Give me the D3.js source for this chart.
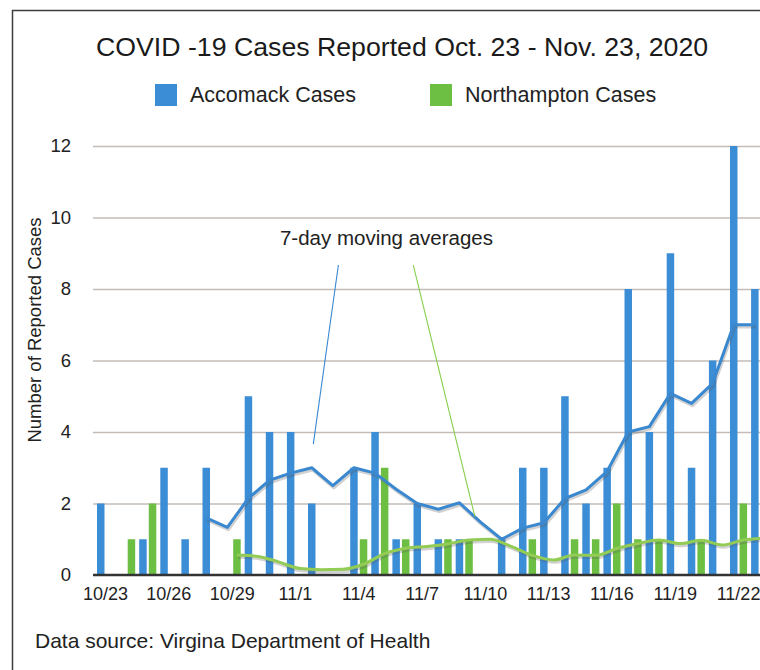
<!DOCTYPE html>
<html>
<head>
<meta charset="utf-8">
<script src="https://cdn.jsdelivr.net/npm/d3@7"></script>
<style>
  html, body { margin: 0; padding: 0; background: #ffffff; }
  svg { display: block; font-family: "Liberation Sans", Arial, Helvetica, sans-serif; }
</style>
</head>
<body>
<svg id="chart" width="760" height="670"></svg>
<script>
// ---------------- data ----------------
const categories = ["10/23","10/24","10/25","10/26","10/27","10/28","10/29","10/30","10/31",
  "11/1","11/2","11/3","11/4","11/5","11/6","11/7","11/8","11/9","11/10","11/11","11/12",
  "11/13","11/14","11/15","11/16","11/17","11/18","11/19","11/20","11/21","11/22","11/23"];
const tickLabels = ["10/23","10/26","10/29","11/1","11/4","11/7","11/10","11/13","11/16","11/19","11/22"];
const yTicks = [0, 2, 4, 6, 8, 10, 12];

const accomack    = [2,0,1,3,1,3,0,5,4,4,2,0,3,4,1,2,1,1,0,1,3,3,5,2,3,8,4,9,3,6,12,8];
const northampton = [0,1,2,0,0,0,1,0,0,0,0,0,1,3,1,0,1,1,0,0,1,0,1,1,2,1,1,0,1,0,2,1];

// 7-day moving averages as drawn in the picture
const accomackAvg = [null,null,null,null,null,1.6,1.33,2.15,2.65,2.85,3.0,2.5,3.0,2.85,2.4,2.0,
  1.84,2.02,1.48,1.0,1.31,1.46,2.14,2.38,2.9,4.0,4.15,5.08,4.8,5.36,7.0,7.0];
const northamptonAvg = [null,null,null,null,null,null,0.56,0.52,0.36,0.18,0.15,0.16,0.3,0.6,0.75,0.8,
  0.87,0.98,1.0,0.8,0.55,0.42,0.56,0.55,0.74,0.88,0.98,0.88,0.97,0.84,0.98,1.03];

const seriesNames = ["Accomack Cases", "Northampton Cases"];
const titleText = "COVID -19 Cases Reported Oct. 23 - Nov. 23, 2020";
const yTitle = "Number of Reported Cases";
const sourceText = "Data source: Virgina Department of Health";
const annotationText = "7-day moving averages";

// ---------------- styles ----------------
const BLUE = "#3b8dd5";
const GREEN = "#6cbf43";
const BLUE_LINE = "#3a88cf";
const GREEN_LINE = "#93cc55";

const svg = d3.select("#chart");

// frame
svg.append("path")
  .attr("d", "M12.5,670 L12.5,10.5 L760,10.5")
  .attr("fill", "none").attr("stroke", "#3d3d3d").attr("stroke-width", 1.5);

// title
svg.append("text").attr("x", 96).attr("y", 56)
  .attr("font-size", 26.7).attr("fill", "#1a1a1a").text(titleText);

// legend
const legend = [
  {name: seriesNames[0], color: BLUE, x: 155},
  {name: seriesNames[1], color: GREEN, x: 430}
];
const lg = svg.append("g").selectAll("g").data(legend).join("g")
  .attr("transform", d => `translate(${d.x},84)`);
lg.append("rect").attr("width", 22).attr("height", 22).attr("fill", d => d.color);
lg.append("text").attr("x", 35).attr("y", 17.5).attr("font-size", 21.5)
  .attr("fill", "#222").text(d => d.name);

// scales
const step = 21.1;
const x0 = 97;
const x = d3.scaleBand().domain(categories)
  .range([x0, x0 + step * (categories.length - 0.19)])
  .paddingInner(0.19).paddingOuter(0);
const xs = d3.scaleBand().domain(["acc", "nor"]).range([0, x.bandwidth()]).paddingInner(0.22);
const y = d3.scaleLinear().domain([0, 12]).range([575, 146]);
const xPos = idx => x.range()[0] + idx * x.step();

// gridlines
const gridG = svg.append("g").attr("transform", "translate(93,0)")
  .call(d3.axisLeft(y).tickValues(yTicks.filter(v => v > 0)).tickSize(-(760 - 93)).tickFormat(""));
gridG.select(".domain").remove();
gridG.selectAll("line").attr("stroke", "#c5bcb7").attr("stroke-width", 1.6);

// y labels
const yAx = svg.append("g").attr("transform", "translate(93,0)")
  .call(d3.axisLeft(y).tickValues(yTicks).tickSize(0).tickPadding(22));
yAx.select(".domain").remove();
yAx.selectAll("text").attr("font-size", 18.5).attr("fill", "#222")
  .attr("font-family", "'Liberation Sans', Arial, sans-serif");

// y title
svg.append("text")
  .attr("transform", `translate(41,${(217 + 443) / 2}) rotate(-90)`)
  .attr("text-anchor", "middle").attr("font-size", 18.5).attr("fill", "#222").text(yTitle);

// bars
const barG = svg.append("g");
barG.selectAll("rect.acc").data(accomack.map((v, i) => ({v, c: categories[i]})))
  .join("rect").attr("class", "acc")
  .attr("x", d => x(d.c) + xs("acc")).attr("width", xs.bandwidth())
  .attr("y", d => y(d.v)).attr("height", d => y(0) - y(d.v)).attr("fill", BLUE);
barG.selectAll("rect.nor").data(northampton.map((v, i) => ({v, c: categories[i]})))
  .join("rect").attr("class", "nor")
  .attr("x", d => x(d.c) + xs("nor")).attr("width", xs.bandwidth())
  .attr("y", d => y(d.v)).attr("height", d => y(0) - y(d.v)).attr("fill", GREEN);

// moving averages
function drawAvg(values, key, color, curve) {
  const pts = values.map((v, i) => ({v, c: categories[i]}));
  const line = d3.line().defined(d => d.v !== null)
    .x(d => x(d.c) + xs(key) + xs.bandwidth() / 2).y(d => y(d.v)).curve(curve);
  svg.append("path").datum(pts).attr("d", line).attr("fill", "none")
    .attr("stroke", "rgba(90,90,90,0.28)").attr("stroke-width", 3.5)
    .attr("stroke-linejoin", "round").attr("transform", "translate(1,2)");
  svg.append("path").datum(pts).attr("d", line).attr("fill", "none")
    .attr("stroke", color).attr("stroke-width", 3).attr("stroke-linejoin", "round");
}
drawAvg(accomackAvg, "acc", BLUE_LINE, d3.curveLinear);
drawAvg(northamptonAvg, "nor", GREEN_LINE, d3.curveMonotoneX);

// baseline
svg.append("line").attr("x1", 93).attr("x2", 760).attr("y1", y(0)).attr("y2", y(0))
  .attr("stroke", "#333").attr("stroke-width", 2.5);

// x labels
const xAx = svg.append("g").attr("transform", `translate(0,${y(0)})`)
  .call(d3.axisBottom(x).tickValues(tickLabels).tickSize(0).tickPadding(12));
xAx.select(".domain").remove();
xAx.selectAll("text").attr("font-size", 18).attr("fill", "#222")
  .attr("font-family", "'Liberation Sans', Arial, sans-serif");

// annotation
svg.append("text").attr("x", xPos(8.67)).attr("y", y(9.23))
  .attr("font-size", 20.5).attr("fill", "#222").text(annotationText);
const pointers = [
  {from: [11.44, 8.67], to: [10.25, 3.66], color: BLUE_LINE},
  {from: [14.99, 8.67], to: [17.91, 1.63], color: "#86cf4c"}
];
svg.append("g").selectAll("line").data(pointers).join("line")
  .attr("x1", d => xPos(d.from[0])).attr("y1", d => y(d.from[1]))
  .attr("x2", d => xPos(d.to[0])).attr("y2", d => y(d.to[1]))
  .attr("stroke", d => d.color).attr("stroke-width", 1.1);

// source
svg.append("text").attr("x", 35).attr("y", 648).attr("font-size", 21)
  .attr("fill", "#222").text(sourceText);
</script>
</body>
</html>
